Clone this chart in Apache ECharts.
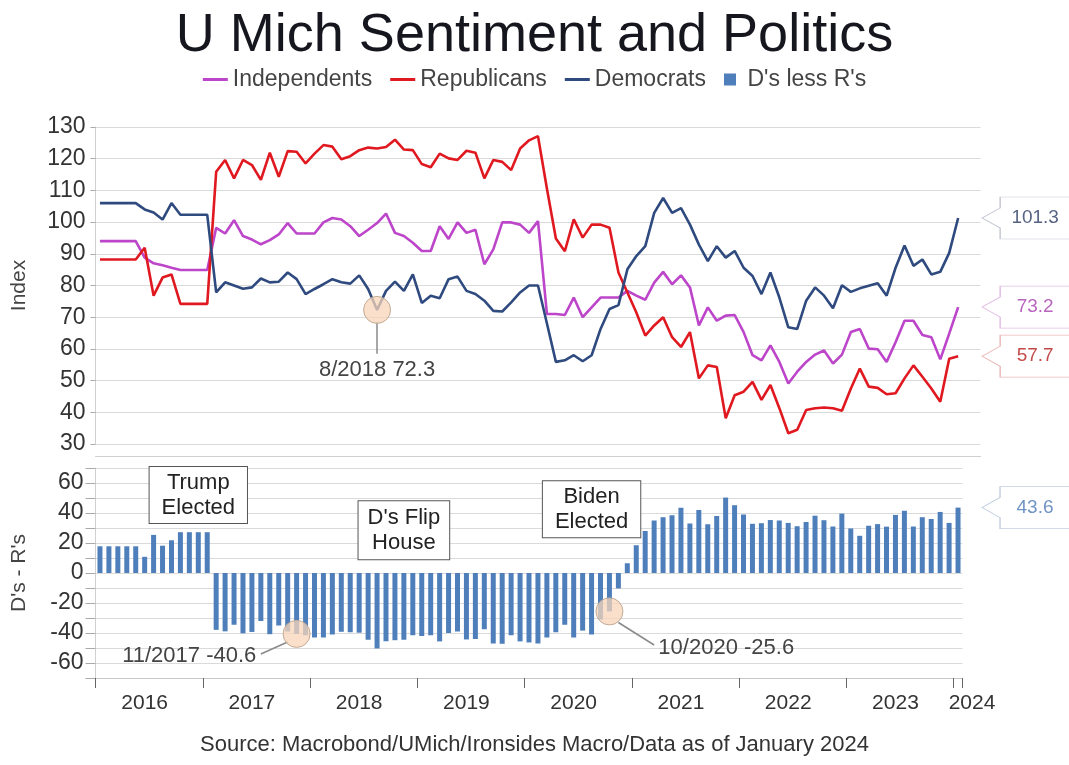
<!DOCTYPE html>
<html>
<head>
<meta charset="utf-8">
<script src="https://cdn.jsdelivr.net/npm/echarts@6/dist/echarts.min.js"></script>
<style>
  html, body { margin: 0; padding: 0; background: #fff; }
  #chart { width: 1069px; height: 765px; }
</style>
</head>
<body>
<div id="chart"></div>
<script>
// monthly, Jan 2016 .. Jan 2024
const months = [];
for (let y = 2016; y <= 2024; y++) {
  for (let m = 1; m <= 12; m++) {
    if (y === 2024 && m > 1) break;
    months.push(y + '-' + String(m).padStart(2, '0'));
  }
}

const independents = [
  94, 94, 94, 94, 94, 88.8, 87, 86.4, 85.6, 84.9, 84.9, 84.9,
  84.9, 98.2, 96.4, 100.6, 95.6, 94.5, 93, 94.3, 96.1, 99.7, 96.4, 96.4,
  96.4, 99.9, 101.3, 100.8, 98.7, 95.6, 97.6, 99.7, 102.7, 96.6, 95.6, 93.5,
  90.9, 90.9, 98.7, 94.7, 99.9, 96.6, 97.6, 86.7, 91.4, 99.9, 99.9, 99.2,
  96.6, 100.3, 71, 71, 70.7, 76.2, 70, 73.1, 76.2, 76.2, 76.2, 78.3,
  76.8, 75.5, 80.9, 84.3, 80.4, 83.2, 79.4, 67.4, 73.1, 68.9, 70.5, 70.7,
  65.3, 58, 56.4, 61.1, 55.9, 49.1, 52.8, 55.9, 58.2, 59.5, 55.4, 58.2,
  65.3, 66.3, 60.1, 59.9, 55.9, 62.1, 68.9, 68.9, 64.4, 63.7, 56.7, 64.8,
  73.2
];

const republicans = [
  88.2, 88.2, 88.2, 88.2, 88.2, 91.9, 76.8, 82.5, 83.5, 74.2, 74.2, 74.2,
  74.2, 115.9, 119.6, 113.8, 119.6, 118, 113.3, 121.9, 114.3, 122.4, 122.2, 118.5,
  121.6, 124.3, 123.8, 119.8, 120.8, 122.7, 123.5, 123.2, 123.7, 126, 122.9, 122.7,
  118.3, 117.3, 121.6, 120.1, 119.6, 122.5, 121.9, 113.8, 119.6, 119, 116.4, 123.2,
  125.8, 127.1, 110.5, 94.8, 90.8, 100.9, 95.1, 99.2, 99.2, 98.2, 84.1, 77.8,
  71.5, 64.2, 67.4, 70, 63.7, 60.6, 65.3, 50.7, 54.8, 54.3, 38.1, 45.4,
  46.5, 49.6, 43.9, 48.6, 41.3, 33.4, 34.5, 40.7, 41.3, 41.5, 41.3, 40.5,
  47.5, 53.8, 48.1, 47.7, 45.7, 46, 50.7, 54.8, 51.2, 47.5, 43.3, 56.9,
  57.7
];

const democrats = [
  106, 106, 106, 106, 106, 104, 103, 100.8, 106, 102.3, 102.3, 102.3,
  102.3, 77.8, 81, 80, 79, 79.4, 82.2, 81, 81.2, 84.1, 82, 77.3,
  78.9, 80.4, 82, 81, 80.6, 83.2, 78.9, 72.3, 78.3, 81.2, 78.3, 83.5,
  74.5, 76.8, 76, 82, 82.8, 78.3, 77.3, 75.2, 72, 71.8, 74.7, 77.8,
  80, 80, 68, 55.9, 56.4, 58, 56.1, 58, 66.3, 72.6, 73.8, 85.1,
  89.3, 92.4, 102.9, 107.6, 102.9, 104.4, 99.2, 92.9, 87.7, 92.4, 88.8, 90.9,
  85.6, 83, 77.3, 84.1, 76.2, 66.8, 66.3, 75.2, 79.4, 76.8, 72.8, 80.1,
  78, 79.1, 79.9, 80.7, 76.8, 85.6, 92.6, 86.2, 88.2, 83.5, 84.3, 90.3,
  101.3
];

const dLessR = [
  17.8, 17.8, 17.8, 17.8, 17.8, 10.8, 25.4, 18.2, 21.8, 27.2, 27.2, 27.2,
  27.2, -37.9, -38.9, -34.5, -40.2, -39.3, -32, -40.8, -35, -39, -40.6, -41.5,
  -43, -43, -41, -39.2, -39.5, -39.8, -44.5, -50.3, -45.5, -44.8, -44.5, -41.5,
  -42, -41.5, -45.6, -40, -39, -44.3, -44, -37.5, -47, -47.2, -41.5, -45.6,
  -46.3, -47, -43, -39.5, -34.5, -43, -38.4, -41, -31, -25.6, -10.3, 6.5,
  18.5, 28, 35, 37.2, 38.5, 43.5, 33, 42, 32.5, 38, 50.3, 45.2,
  39, 32.8, 33.2, 35.3, 35, 33.4, 31.2, 34, 38.2, 35.2, 31, 39.6,
  29.7, 24.8, 31.5, 32.6, 30.9, 38.7, 41.5, 31, 37.2, 36, 40.7, 33.4,
  43.6
];

const FONT = '"Liberation Sans", Arial, sans-serif';
const last = months.length - 1;
// top panel runs a little further right than the bars
const topCats = months.concat([' ', '  ']);

const calloutPath = 'path://M0,21 L18,11 L18,0 L88,0 L88,42 L18,42 L18,31 Z';
const lineIcon = 'path://M0,0 L25,0 L25,3 L0,3 Z';
const boxIcon = 'path://M0,0 L10,0 L10,10 L0,10 Z';

function callout(idx, val, textColor, borderColor) {
  return {
    coord: [idx, val],
    symbol: calloutPath,
    symbolSize: [88, 42],
    symbolOffset: [68, 0],
    itemStyle: { color: '#fff', borderColor: borderColor, borderWidth: 1 },
    label: {
      show: true, position: 'inside', offset: [9, 0],
      formatter: String(val), color: textColor, fontSize: 19, fontFamily: FONT
    }
  };
}
function bubble(idx, val) {
  return {
    coord: [idx, val],
    symbol: 'circle',
    symbolSize: 27,
    itemStyle: { color: 'rgba(248,214,186,0.75)', borderColor: '#c2ab96', borderWidth: 1 },
    label: { show: false }
  };
}
function noteBox(idx, val, text, pad) {
  return {
    coord: [idx, val],
    symbol: 'rect',
    symbolSize: 1,
    itemStyle: { color: 'rgba(0,0,0,0)' },
    label: {
      show: true, position: 'inside', formatter: text,
      backgroundColor: '#fff', borderColor: '#555', borderWidth: 1,
      padding: pad, fontSize: 22, lineHeight: 25, color: '#222', fontFamily: FONT
    }
  };
}
function leader(from, to, text) {
  return [
    { coord: from, label: { show: true, position: 'end', formatter: text, fontSize: 22,
      color: '#444', fontFamily: FONT, distance: 5 } },
    { coord: to }
  ];
}

const chart = echarts.init(document.getElementById('chart'));

const option = {
  animation: false,
  backgroundColor: '#fff',
  textStyle: { fontFamily: FONT },
  title: [
    {
      text: 'U Mich Sentiment and Politics',
      left: 'center', top: 4,
      textStyle: { fontSize: 54, fontWeight: 'normal', color: '#16161e', fontFamily: FONT }
    },
    {
      text: 'Source: Macrobond/UMich/Ironsides Macro/Data as of January 2024',
      left: 'center', bottom: 4,
      textStyle: { fontSize: 22, fontWeight: 'normal', color: '#333', fontFamily: FONT }
    }
  ],
  legend: {
    top: 63, left: 'center',
    itemWidth: 25, itemHeight: 12, itemGap: 18,
    textStyle: { fontSize: 23, color: '#444', fontFamily: FONT },
    data: [
      { name: 'Independents', icon: lineIcon },
      { name: 'Republicans', icon: lineIcon },
      { name: 'Democrats', icon: lineIcon },
      { name: "D's less R's", icon: boxIcon }
    ]
  },
  grid: [
    { left: 95.5, right: 88.5, top: 127, bottom: 321 },
    { left: 95.5, right: 106.5, top: 468, bottom: 87 }
  ],
  xAxis: [
    {
      gridIndex: 0, type: 'category', data: topCats, boundaryGap: true,
      offset: 12,
      axisLine: { show: true, onZero: false, lineStyle: { color: '#d0d0d0' } },
      axisTick: { show: false }, axisLabel: { show: false }, splitLine: { show: false }
    },
    {
      gridIndex: 1, type: 'category', data: months, boundaryGap: true,
      axisLine: { show: true, onZero: false, lineStyle: { color: '#c8c8c8' } },
      axisTick: {
        show: true, length: 10, lineStyle: { color: '#666' },
        interval: (i) => i % 12 === 0
      },
      axisLabel: {
        interval: (i, v) => v.endsWith('-06') || i === last,
        formatter: (v, i) => i === last ? '{b|' + v.slice(0, 4) + '}' : v.slice(0, 4),
        fontSize: 21, color: '#333', margin: 15, fontFamily: FONT,
        rich: { b: { fontSize: 21, color: '#333', padding: [0, 0, 0, 28], fontFamily: FONT } }
      },
      splitLine: { show: false }
    }
  ],
  yAxis: [
    {
      gridIndex: 0, type: 'value', min: 30, max: 130, interval: 10,
      name: 'Index', nameLocation: 'middle', nameGap: 66,
      nameTextStyle: { fontSize: 21, color: '#444', fontFamily: FONT },
      axisLine: { show: true, lineStyle: { color: '#d0d0d0' } },
      axisTick: { show: true, length: 5, lineStyle: { color: '#aaa' } },
      axisLabel: { fontSize: 23, color: '#333', margin: 10, fontFamily: FONT },
      splitLine: { lineStyle: { color: '#dadada' } }
    },
    {
      gridIndex: 1, type: 'value', min: -70, max: 70, interval: 10,
      name: "D's - R's", nameLocation: 'middle', nameGap: 66,
      nameTextStyle: { fontSize: 21, color: '#444', fontFamily: FONT },
      axisLine: { show: true, lineStyle: { color: '#d0d0d0' } },
      axisTick: { show: true, length: 10, lineStyle: { color: '#aaa' } },
      axisLabel: {
        fontSize: 23, color: '#333', margin: 12, fontFamily: FONT,
        formatter: (v) => (v % 20 === 0 && Math.abs(v) <= 60) ? String(v) : ''
      },
      splitLine: { lineStyle: { color: '#dadada' } }
    }
  ],
  series: [
    {
      name: 'Independents', type: 'line', xAxisIndex: 0, yAxisIndex: 0,
      data: independents, symbol: 'none',
      lineStyle: { color: '#bc45c9', width: 2.6 }, itemStyle: { color: '#bc45c9' },
      markPoint: { silent: true, data: [callout(last, independents[last], '#b866bd', '#e2bde4')] }
    },
    {
      name: 'Republicans', type: 'line', xAxisIndex: 0, yAxisIndex: 0,
      data: republicans, symbol: 'none',
      lineStyle: { color: '#e01820', width: 2.6 }, itemStyle: { color: '#e01820' },
      markPoint: { silent: true, data: [callout(last, republicans[last], '#c44a4a', '#ecb8b8')] }
    },
    {
      name: 'Democrats', type: 'line', xAxisIndex: 0, yAxisIndex: 0,
      data: democrats, symbol: 'none',
      lineStyle: { color: '#2f4a7e', width: 2.6 }, itemStyle: { color: '#2f4a7e' },
      markPoint: {
        silent: true,
        data: [callout(last, democrats[last], '#566383', '#c4c8d2'), bubble(31, democrats[31])]
      },
      markLine: {
        silent: true, symbol: ['none', 'none'],
        lineStyle: { color: '#8a8a8a', width: 1.5, type: 'solid' },
        data: [leader([31, 68.5], [31, 58.5], '8/2018 72.3')]
      }
    },
    {
      name: "D's less R's", type: 'bar', xAxisIndex: 1, yAxisIndex: 1,
      data: dLessR, barWidth: 5,
      itemStyle: { color: '#4f7fba' },
      markPoint: {
        silent: true,
        data: [
          callout(last, dLessR[last], '#6f93c4', '#c2cfe0'),
          bubble(22, dLessR[22]),
          bubble(57, dLessR[57]),
          noteBox(11, 52, 'Trump\nElected', [3, 12]),
          noteBox(34, 28.5, "D's Flip\nHouse", [4, 9]),
          noteBox(55, 42.5, 'Biden\nElected', [3, 12])
        ]
      },
      markLine: {
        silent: true, symbol: ['none', 'none'],
        lineStyle: { color: '#8a8a8a', width: 1.5, type: 'solid' },
        data: [
          leader([21, -46], [18, -54], '11/2017 -40.6'),
          leader([58, -33], [62, -48], '10/2020 -25.6')
        ]
      }
    }
  ]
};

chart.setOption(option);
</script>
</body>
</html>
